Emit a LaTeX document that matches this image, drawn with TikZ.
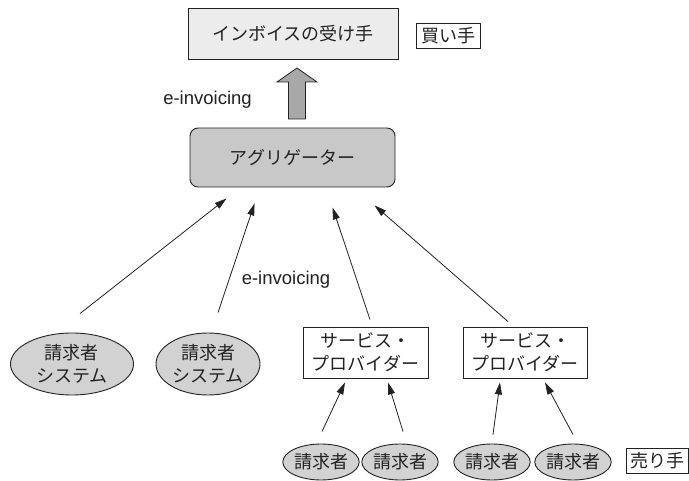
\documentclass[tikz,border=0pt]{standalone}
\usepackage{fontspec}
\setmainfont{Liberation Sans}
\newfontfamily\jp{Noto Sans CJK JP}
\usetikzlibrary{shapes.geometric,arrows.meta,calc}
\definecolor{topfill}{HTML}{ECECEC}
\definecolor{aggfill}{HTML}{C8C8C8}
\definecolor{ellfill}{HTML}{D2D2D2}
\definecolor{bigarrow}{HTML}{A8A8A8}
\definecolor{ink}{HTML}{222222}
\tikzset{
  jptext/.style={font=\jp\fontsize{18}{23}\selectfont, text=ink, align=center, inner sep=0pt},
  box/.style={jptext, draw=ink, line width=0.9pt, rectangle},
  labelbox/.style={jptext, draw=ink, line width=0.8pt, rectangle, fill=white},
  ell/.style={jptext, draw=ink, line width=0.9pt, ellipse, fill=ellfill},
  arr/.style={draw=ink, line width=0.8pt, -{Triangle[length=12pt,width=7pt]}},
  latin/.style={font=\fontsize{18.5}{22}\selectfont, text=ink, inner sep=0pt}
}
\begin{document}
\begin{tikzpicture}[x=1pt,y=-1pt]
\useasboundingbox (0,0) rectangle (689,481);
\fill[white] (0,0) rectangle (689,481);
% top
\node[box, fill=topfill, minimum width=210pt, minimum height=51pt] (recv) at (293,33.5) {インボイスの受け手};
\node[labelbox, minimum width=64pt, minimum height=25pt] (buyer) at (448,35.5) {買い手};
% aggregator
\node[box, fill=aggfill, rounded corners=8pt, minimum width=205pt, minimum height=59pt] (agg) at (292.5,157.5) {アグリゲーター};
% big arrow
\coordinate (fb) at (297,119);
\coordinate (ft) at (297,68);
\draw[ink, line width=0.8pt, fill=bigarrow]
  ($(fb)+(-8.5,0)$) -- ($(ft)+(-8.5,14)$) -- ($(ft)+(-20,14)$) -- (ft)
  -- ($(ft)+(20,14)$) -- ($(ft)+(8.5,14)$) -- ($(fb)+(8.5,0)$) -- cycle;
\node[latin] (lab1) at (207.5,100) {e-invoicing};
% middle row
\node[ell, minimum width=123pt, minimum height=62pt] (e1) at (72,364) {請求者\\システム};
\node[ell, minimum width=104pt, minimum height=62pt] (e2) at (208,364) {請求者\\システム};
\node[box, fill=white, minimum width=125pt, minimum height=51pt] (sp1) at (365.5,352.5) {サービス・\\プロバイダー};
\node[box, fill=white, minimum width=124pt, minimum height=51pt] (sp2) at (525,352.5) {サービス・\\プロバイダー};
\node[latin] (lab2) at (286,280) {e-invoicing};
% bottom row
\node[ell, minimum width=72pt, minimum height=36pt] (b1) at (321,462) {請求者};
\node[ell, minimum width=66pt, minimum height=36pt] (b2) at (400,462) {請求者};
\node[ell, minimum width=71pt, minimum height=36pt] (b3) at (492,462) {請求者};
\node[ell, minimum width=67pt, minimum height=36pt] (b4) at (573,462) {請求者};
\node[labelbox, minimum width=62pt, minimum height=25pt] (seller) at (657,460.5) {売り手};
% arrows to aggregator
\draw[arr] ($(e1.north)+(8,-19)$) -- ($(agg.south west)+(37,11)$);
\draw[arr] ($(e2.north)+(10,-20)$) -- ($(agg.south west)+(65,16)$);
\draw[arr] ($(sp1.north)+(4.5,-7)$) -- ($(agg.south west)+(143,20)$);
\draw[arr] ($(sp2.north)+(-17,-5)$) -- ($(agg.south west)+(185,18)$);
% arrows to service providers
\draw[arr] ($(b1.north)+(1,-12)$) -- ($(sp1.south)+(-20.5,4)$);
\draw[arr] ($(b2.north)+(3,-12)$) -- ($(sp1.south)+(22.5,4)$);
\draw[arr] ($(b3.north)+(1,-9)$) -- ($(sp2.south)+(-25,4)$);
\draw[arr] ($(b4.north)+(0,-9)$) -- ($(sp2.south)+(20,4)$);
\end{tikzpicture}
\end{document}
